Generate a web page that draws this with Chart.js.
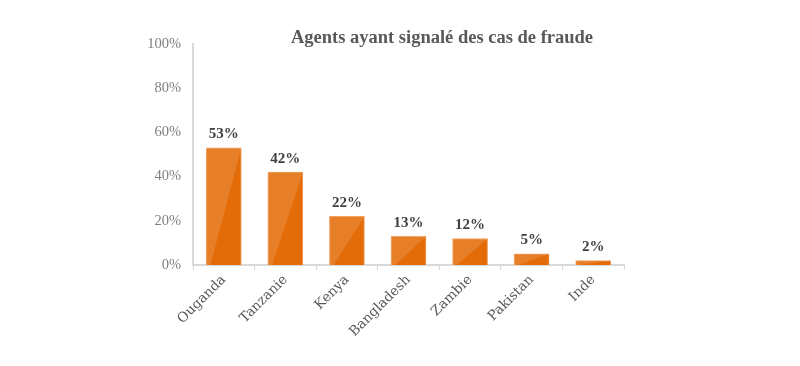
<!DOCTYPE html>
<html>
<head>
<meta charset="utf-8">
<script src="https://cdn.jsdelivr.net/npm/chart.js@4"></script>
<style>
  html, body { margin: 0; padding: 0; background: #ffffff; }
  #wrap { width: 800px; height: 366px; }
</style>
</head>
<body>
<div id="wrap"><canvas id="myChart"></canvas></div>
<script>
// Chart data
const countries = ['Ouganda', 'Tanzanie', 'Kenya', 'Bangladesh', 'Zambie', 'Pakistan', 'Inde'];
const fraudShare = [53, 42, 22, 13, 12, 5, 2];
const yTicks = [0, 20, 40, 60, 80, 100];
const chartTitle = 'Agents ayant signalé des cas de fraude';

const serif = "'Liberation Serif', 'DejaVu Serif', serif";
const wideSerif = "'DejaVu Serif', 'Liberation Serif', serif";

// Lighter diagonal triangle on each bar + value labels
const barDecor = {
    id: 'barDecor',
    afterDatasetsDraw(chart) {
        const ctx = chart.ctx;
        const meta = chart.getDatasetMeta(0);
        meta.data.forEach((bar, i) => {
            const left = bar.x - bar.width / 2;
            const right = bar.x + bar.width / 2;
            const top = bar.y;
            const bottom = bar.base;
            ctx.save();
            ctx.fillStyle = 'rgba(255, 255, 255, 0.13)';
            ctx.beginPath();
            ctx.moveTo(left, top);
            ctx.lineTo(right, top);
            ctx.lineTo(left + bar.width * 0.12, bottom);
            ctx.lineTo(left, bottom);
            ctx.closePath();
            ctx.fill();

            // value label
            ctx.fillStyle = '#404040';
            ctx.font = 'bold 15px ' + serif;
            ctx.textAlign = 'center';
            ctx.textBaseline = 'bottom';
            ctx.fillText(fraudShare[i] + '%', bar.x, top - 6);
            ctx.restore();
        });
    }
};

// Title drawn a little right of the plot centre, like the original
const titlePlugin = {
    id: 'titlePlugin',
    afterDraw(chart) {
        const ctx = chart.ctx;
        ctx.save();
        ctx.fillStyle = '#595959';
        ctx.font = 'bold 18.5px ' + serif;
        ctx.textAlign = 'center';
        ctx.textBaseline = 'middle';
        ctx.fillText(chartTitle, 442, 38);
        ctx.restore();
    }
};

const ctx = document.getElementById('myChart').getContext('2d');
const myChart = new Chart(ctx, {
    type: 'bar',
    data: {
        labels: countries,
        datasets: [{
            data: fraudShare,
            backgroundColor: '#E36C09',
            borderColor: '#F09B55',
            borderWidth: 1,
            barThickness: 35
        }]
    },
    plugins: [barDecor, titlePlugin],
    options: {
        responsive: true,
        maintainAspectRatio: false,
        animation: false,
        layout: {
            padding: { top: 44, right: 176, bottom: 0, left: 0 }
        },
        plugins: {
            legend: { display: false },
            tooltip: { enabled: false },
            title: { display: false }
        },
        scales: {
            x: {
                grid: {
                    offset: true,
                    drawOnChartArea: false,
                    drawTicks: true,
                    tickLength: 5,
                    color: '#d9d9d9'
                },
                border: { display: true, color: '#d9d9d9', width: 2 },
                ticks: {
                    minRotation: 45,
                    maxRotation: 45,
                    color: '#595959',
                    padding: 2,
                    font: { family: wideSerif, size: 13.5 }
                },
                afterFit(scale) { scale.height = 101; }
            },
            y: {
                min: 0,
                max: 100,
                afterBuildTicks(scale) {
                    scale.ticks = yTicks.map(v => ({ value: v }));
                },
                grid: { display: false, drawTicks: false },
                border: { display: true, color: '#d9d9d9', width: 2 },
                ticks: {
                    color: '#7f7f7f',
                    padding: 12,
                    font: { family: serif, size: 14.5 },
                    callback: v => v + '%'
                },
                afterFit(scale) { scale.width = 193; }
            }
        }
    }
});
</script>
</body>
</html>
